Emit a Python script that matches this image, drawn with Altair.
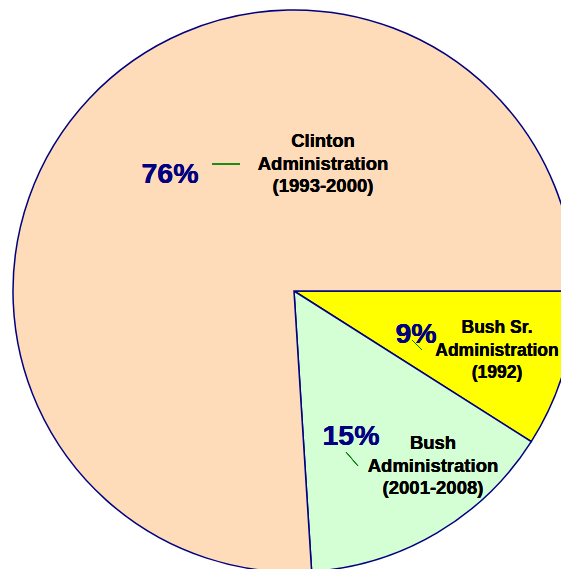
import math
import altair as alt
import pandas as pd

categories = ["Bush Sr. Administration (1992)", "Bush Administration (2001-2008)", "Clinton Administration (1993-2000)"]
shares = [9, 15, 76]
colors = ["#FFFF00", "#D4FED4", "#FFDCB9"]
pct_labels = ["9%", "15%", "76%"]

df = pd.DataFrame({"category": categories, "share": shares, "idx": list(range(len(shares)))})

W, H = 553, 561
CX, CY, R = 286, 283, 281

pie = alt.Chart(df).mark_arc(stroke="#000080", strokeWidth=1.5).encode(
    theta=alt.Theta("share:Q", stack=True,
                    scale=alt.Scale(range=[math.pi / 2, math.pi / 2 + 2 * math.pi])),
    color=alt.Color("category:N", scale=alt.Scale(domain=categories, range=colors), legend=None),
    order=alt.Order("idx:Q"),
    x=alt.value(CX), y=alt.value(CY), radius=alt.value(R),
)

FONT = "Liberation Sans"

def pct(text, x, y):
    return alt.Chart(df).mark_text(font=FONT, fontWeight="bold", fontSize=28.5, color="#000080",
                                   align="center", baseline="middle").encode(
        x=alt.value(x), y=alt.value(y), text=alt.value(text))

def lab(text, x, y, size=18.5):
    return alt.Chart(df).mark_text(font=FONT, fontWeight="bold", fontSize=size, color="#000000",
                                   align="center", baseline="middle", lineBreak="\n",
                                   lineHeight=22.5).encode(
        x=alt.value(x), y=alt.value(y), text=alt.value(text))

def lead(x1, y1, x2, y2):
    return alt.Chart(df).mark_rule(color="#008000", strokeWidth=1).encode(
        x=alt.value(x1), y=alt.value(y1), x2=alt.value(x2), y2=alt.value(y2))

layers = [
    pie,
    lead(204, 156, 232, 156),
    lead(404, 332, 414, 342),
    lead(338, 444, 350, 458),
    pct(pct_labels[2], 162, 166),
    pct(pct_labels[0], 408, 326),
    pct(pct_labels[1], 343, 428),
    lab("Clinton\nAdministration\n(1993-2000)", 315, 133),
    lab("Bush Sr.\nAdministration\n(1992)", 489, 320, size=17.5),
    lab("Bush\nAdministration\n(2001-2008)", 425, 435),
]

chart = alt.layer(*layers).properties(
    width=W, height=H, padding=0,
    autosize=alt.AutoSizeParams(type="none"),
).configure_view(stroke=None)

chart.save("out.html", embed_options={"renderer": "svg", "actions": False})
